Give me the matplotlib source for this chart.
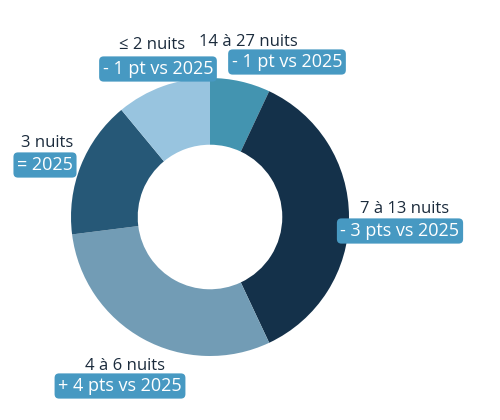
import matplotlib
matplotlib.use("Agg")
import matplotlib.pyplot as plt

# Data (clockwise from top)
categories = ["14 à 27 nuits", "7 à 13 nuits", "4 à 6 nuits", "3 nuits", "≤ 2 nuits"]
shares = [7, 36, 30, 16, 11]
deltas = ["- 1 pt vs 2025", "- 3 pts vs 2025", "+ 4 pts vs 2025", "= 2025", "- 1 pt vs 2025"]
colors = ["#4394B0", "#14314A", "#729CB5", "#265877", "#98C4DF"]

# Label layout (pixel coords, top-left origin): (title x, title y, box x, box y)
label_pos = [
    (248, 42, 287, 62),
    (405, 209, 400, 231),
    (125, 366, 120, 386),
    (47, 143, 45, 165),
    (152, 45, 158, 69),
]

W, H = 500, 420
plt.rcParams['font.family'] = ['Open Sans', 'DejaVu Sans']
fig = plt.figure(figsize=(W / 100, H / 100), dpi=100)
ax = fig.add_axes([0, 0, 1, 1])

cx, cy, r = 210, H - 217, 139
ax.pie(shares, colors=colors, startangle=90, counterclock=False,
       radius=r, center=(cx, cy),
       wedgeprops=dict(width=r * 0.48, edgecolor='none', linewidth=0),
       frame=True)
ax.set_xlim(0, W)
ax.set_ylim(0, H)
ax.set_aspect('equal')
ax.axis('off')

text_color = "#1B2B3C"
box_color = "#4799C2"
for cat, dl, (tx, ty, bx, by) in zip(categories, deltas, label_pos):
    ax.text(tx, H - ty, cat, ha='center', va='center', fontsize=12, color=text_color)
    ax.text(bx, H - by, dl, ha='center', va='center', fontsize=13, color='white',
            bbox=dict(boxstyle='round,pad=0.2,rounding_size=0.25', fc=box_color, ec='none'))

fig.savefig("out.png", dpi=100)
